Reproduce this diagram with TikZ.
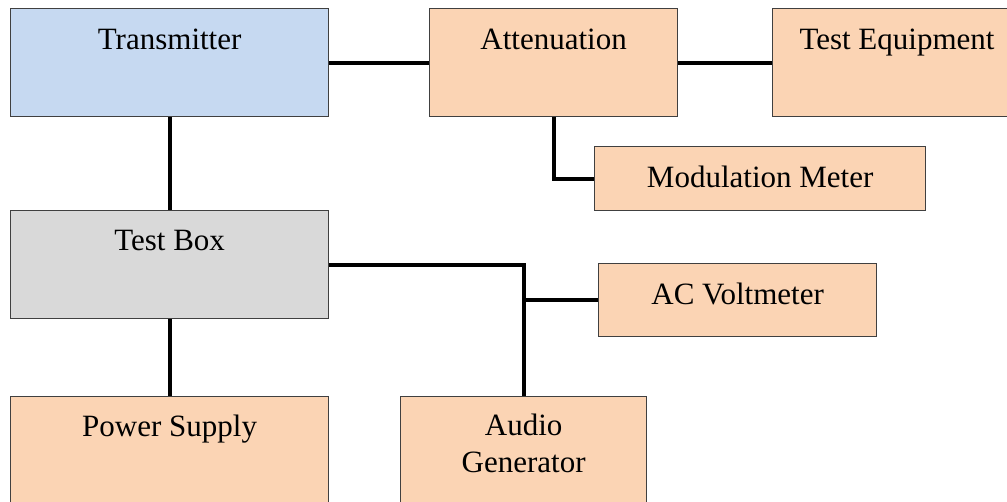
\documentclass[tikz,border=0pt]{standalone}
\usepackage{fontspec}
\setmainfont{Liberation Serif}
\usetikzlibrary{calc}
\definecolor{bluefill}{HTML}{C6D9F1}
\definecolor{peach}{HTML}{FBD4B4}
\definecolor{grayfill}{HTML}{D9D9D9}
\definecolor{edge}{HTML}{404040}
\tikzset{
  box/.style={draw=edge, line width=1.3pt, rectangle, anchor=north west, inner sep=0pt},
  txt/.style={font=\fontsize{31}{37}\selectfont, inner sep=0pt, anchor=base, align=center},
  conn/.style={line width=4.2pt, black}
}
\begin{document}
\begin{tikzpicture}[x=1pt,y=-1pt]
\useasboundingbox (0,0) rectangle (1007,501);
\clip (0,0) rectangle (1007,501);
% boxes
\node[box, fill=bluefill, minimum width=318pt, minimum height=108pt] (tx) at (10,8) {};
\node[box, fill=peach, minimum width=248pt, minimum height=108pt] (att) at (429,8) {};
\node[box, fill=peach, minimum width=250pt, minimum height=108pt] (teq) at (772,8) {};
\node[box, fill=peach, minimum width=331pt, minimum height=64pt] (mm) at (594,146) {};
\node[box, fill=grayfill, minimum width=318pt, minimum height=108pt] (tb) at (10,210) {};
\node[box, fill=peach, minimum width=278pt, minimum height=73pt] (ac) at (598,263) {};
\node[box, fill=peach, minimum width=318pt, minimum height=110pt] (ps) at (10,396) {};
\node[box, fill=peach, minimum width=246pt, minimum height=110pt] (ag) at (400,396) {};
% texts
\node[txt] (txt-tx) at ($(tx.north)+(0,41)$) {Transmitter};
\node[txt] (txt-att) at ($(att.north)+(0,41)$) {Attenuation};
\node[txt] (txt-teq) at (897,49) {Test Equipment};
\node[txt] (txt-mm) at ($(mm.north)+(0,41)$) {Modulation Meter};
\node[txt] (txt-tb) at ($(tb.north)+(0,40)$) {Test Box};
\node[txt] (txt-ac) at ($(ac.north)+(0,41)$) {AC Voltmeter};
\node[txt] (txt-ps) at ($(ps.north)+(0,40)$) {Power Supply};
\node[txt, anchor=north] (txt-ag) at ($(ag.north)+(0,18)$) {Audio\\Generator};
% connectors
\draw[conn] (tx.east) -- (att.west);
\draw[conn] (att.east) -- (teq.west);
\draw[conn] (tx.south) -- (tb.north);
\draw[conn] (tb.south) -- (ps.north);
\draw[conn] (att.south) |- (mm.west);
\draw[conn] (tb.east) -| (ag.north);
\coordinate (branch) at (ag.north |- ac.west);
\draw[conn] (branch) -- (ac.west);
\end{tikzpicture}
\end{document}
